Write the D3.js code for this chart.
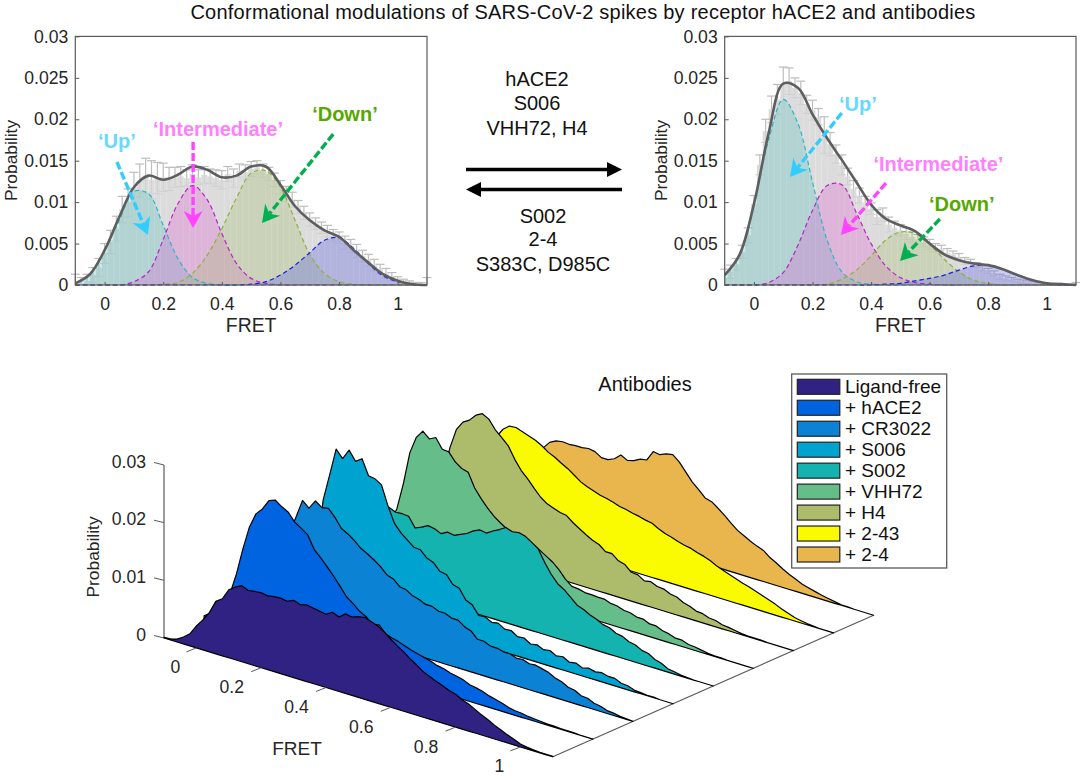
<!DOCTYPE html>
<html>
<head>
<meta charset="utf-8">
<script src="https://cdn.jsdelivr.net/npm/d3@7"></script>
<style>
html,body{margin:0;padding:0;background:#fff}
svg{display:block}
text{font-family:"Liberation Sans",Arial,sans-serif}
</style>
</head>
<body>
<svg id="chart" width="1080" height="779"></svg>
<script>
// ---------- data ----------
const chartTitle = "Conformational modulations of SARS-CoV-2 spikes by receptor hACE2 and antibodies";
const fretBins = d3.range(61).map(k => (k - 5) / 50);
const fitBins = d3.range(25).map(k => (k - 2) / 20);

const ligandFree = [
 .0001,.0002,.0005,.0012,.0021,.0038,.0052,.0068,.0091,.0099,
 .0118,.0126,.0132,.0127,.0129,.0130,.0128,.0130,.0131,.0129,
 .0134,.0130,.0133,.0131,.0129,.0127,.0134,.0129,.0138,.0136,
 .0140,.0142,.0138,.0134,.0127,.0118,.0110,.0103,.0094,.0087,
 .0079,.0074,.0069,.0065,.0060,.0057,.0051,.0047,.0041,.0035,
 .0030,.0024,.0019,.0014,.0010,.0005,.0003,.0002,.0001,.0001,.0001];
const hACE2 = [
 .0008,.0016,.0025,.0040,.0060,.0098,.0145,.0186,.0212,.0224,
 .0242,.0246,.0238,.0232,.0218,.0211,.0203,.0181,.0170,.0158,
 .0145,.0131,.0116,.0108,.0098,.0092,.0082,.0085,.0073,.0069,
 .0066,.0062,.0058,.0055,.0052,.0049,.0045,.0043,.0039,.0037,
 .0034,.0029,.0027,.0024,.0020,.0017,.0014,.0010,.0008,.0007,
 .0005,.0004,.0003,.0002,.0002,.0001,.0001,.0001,0,0,0];
const cr3022 = [
 .0006,.0012,.0025,.0040,.0062,.0088,.0115,.0145,.0176,.0208,
 .0198,.0214,.0206,.0208,.0196,.0180,.0174,.0166,.0156,.0150,
 .0143,.0135,.0124,.0120,.0110,.0108,.0101,.0098,.0093,.0093,
 .0088,.0088,.0083,.0083,.0075,.0071,.0060,.0060,.0055,.0055,
 .0052,.0052,.0048,.0049,.0045,.0046,.0043,.0040,.0034,.0031,
 .0025,.0023,.0017,.0016,.0011,.0009,.0005,.0004,.0002,.0001,0];
const s006 = [
 .0005,.0010,.0020,.0035,.0055,.0080,.0168,.0215,.0263,.0250,
 .0268,.0252,.0260,.0234,.0232,.0225,.0192,.0165,.0152,.0143,
 .0134,.0133,.0122,.0118,.0106,.0104,.0090,.0087,.0070,.0065,
 .0050,.0051,.0045,.0047,.0040,.0041,.0034,.0035,.0028,.0030,
 .0025,.0027,.0021,.0023,.0017,.0019,.0014,.0017,.0014,.0016,
 .0013,.0013,.0008,.0007,.0003,.0002,.0001,.0001,0,0,0];
const s002 = [
 .0003,.0006,.0012,.0025,.0040,.0060,.0078,.0095,.0115,.0132,
 .0138,.0133,.0134,.0133,.0116,.0121,.0127,.0125,.0120,.0126,
 .0124,.0129,.0134,.0142,.0147,.0145,.0152,.0158,.0165,.0161,
 .0163,.0160,.0153,.0145,.0125,.0108,.0095,.0088,.0078,.0068,
 .0064,.0058,.0054,.0048,.0046,.0040,.0038,.0032,.0030,.0024,
 .0022,.0015,.0012,.0006,.0004,.0002,.0001,0,0,0,0];
const vhh72 = [
 .0002,.0006,.0012,.0030,.0062,.0088,.0135,.0192,.0222,.0236,
 .0226,.0232,.0215,.0214,.0200,.0192,.0189,.0165,.0150,.0137,
 .0126,.0118,.0111,.0108,.0105,.0102,.0098,.0092,.0085,.0078,
 .0068,.0055,.0046,.0045,.0042,.0042,.0041,.0041,.0037,.0036,
 .0032,.0031,.0027,.0027,.0022,.0022,.0017,.0015,.0011,.0011,
 .0007,.0006,.0004,.0002,.0001,.0001,0,0,0,0,0];
const h4 = [
 .0002,.0005,.0012,.0025,.0045,.0078,.0120,.0170,.0205,.0221,
 .0228,.0240,.0246,.0240,.0225,.0215,.0204,.0184,.0168,.0157,
 .0144,.0132,.0124,.0120,.0116,.0114,.0105,.0098,.0091,.0085,
 .0081,.0072,.0072,.0063,.0060,.0050,.0049,.0042,.0044,.0039,
 .0038,.0033,.0031,.0025,.0022,.0017,.0016,.0012,.0011,.0007,
 .0006,.0004,.0002,.0001,.0001,.0001,0,0,0,0,0];
const ab243 = [
 .0001,.0003,.0006,.0014,.0028,.0052,.0085,.0125,.0162,.0178,
 .0187,.0188,.0184,.0180,.0176,.0170,.0162,.0157,.0150,.0144,
 .0136,.0128,.0123,.0119,.0115,.0113,.0110,.0106,.0104,.0101,
 .0099,.0096,.0094,.0088,.0083,.0080,.0076,.0073,.0071,.0067,
 .0064,.0060,.0054,.0050,.0046,.0042,.0038,.0035,.0031,.0027,
 .0023,.0019,.0014,.0010,.0006,.0004,.0002,.0001,0,0,0];
const ab24 = [
 .0001,.0002,.0004,.0009,.0018,.0034,.0055,.0078,.0098,.0115,
 .0128,.0134,.0136,.0135,.0136,.0136,.0138,.0136,.0129,.0129,
 .0134,.0144,.0138,.0141,.0147,.0149,.0167,.0165,.0170,.0172,
 .0163,.0149,.0135,.0125,.0114,.0111,.0103,.0094,.0084,.0075,
 .0069,.0063,.0058,.0054,.0045,.0039,.0032,.0026,.0021,.0016,
 .0013,.0010,.0007,.0005,.0003,.0001,.0001,0,0,0,0];

const ribbonNames = ["Ligand-free","+ hACE2","+ CR3022","+ S006","+ S002","+ VHH72","+ H4","+ 2-43","+ 2-4"];
const ribbonSeries = [ligandFree,hACE2,cr3022,s006,s002,vhh72,h4,ab243,ab24];
const ribbonColors = ["#2f2282","#0064e1","#0b82d4","#00a3d0","#14b3b0","#65be8a","#acbc6a","#fafa00","#e8b64c"];

const leftErr = [
 .0012,.0007,.0008,.0009,.0011,.0012,.0014,.0015,.0016,.0017,
 .0018,.0020,.0021,.0023,.0019,.0017,.0014,.0012,.0012,.0010,
 .0011,.0009,.0010,.0009,.0010,.0011,.0009,.0011,.0008,.0009,
 .0009,.0008,.0008,.0008,.0008,.0008,.0009,.0009,.0008,.0008,
 .0008,.0007,.0007,.0007,.0007,.0007,.0008,.0008,.0008,.0007,
 .0007,.0007,.0006,.0006,.0005,.0005,.0004,.0003,.0002,.0002,.0008];
const rightErr = [
 .0011,.0008,.0007,.0008,.0009,.0010,.0012,.0014,.0016,.0018,
 .0021,.0016,.0012,.0014,.0011,.0012,.0010,.0022,.0014,.0011,
 .0012,.0010,.0010,.0009,.0009,.0007,.0009,.0008,.0009,.0008,
 .0007,.0007,.0006,.0006,.0006,.0006,.0005,.0005,.0005,.0004,
 .0004,.0004,.0004,.0003,.0003,.0003,.0003,.0003,.0003,.0002,
 .0002,.0002,.0002,.0002,.0001,.0001,.0001,.0001,.0001,.0001,.0003];

const leftFit = [.0002,.0013,.0042,.0082,.0118,.0132,.0127,.0133,.0143,.0139,.0130,.0132,.0143,.0143,.0121,.0095,.0078,.0066,.0058,.0042,.0027,.0013,.0005,.0001,0];
const leftUp = [.0002,.0013,.0042,.0078,.0113,.0110,.0072,.0032,.0009,.0002,0,0,0,0,0,0,0,0,0,0,0,0,0,0,0];
const leftIntermediate = [0,0,0,0,.0004,.0016,.0055,.0098,.0120,.0103,.0062,.0026,.0008,.0002,0,0,0,0,0,0,0,0,0,0,0];
const leftDown = [0,0,0,0,0,0,.0001,.0003,.0014,.0036,.0068,.0105,.0135,.0138,.0118,.0078,.0037,.0014,.0004,.0001,0,0,0,0,0];
const leftHigh = [0,0,0,0,0,0,0,0,0,0,0,0,.0001,.0004,.0012,.0024,.0039,.0054,.0057,.0044,.0026,.0011,.0004,.0001,0];

const rightFit = [.0012,.0036,.0098,.0183,.0243,.0238,.0206,.0177,.0151,.0124,.0097,.0080,.0072,.0065,.0050,.0037,.0030,.0026,.0024,.0019,.0012,.0006,.0002,.0001,0];
const rightUp = [.0012,.0036,.0098,.0175,.0224,.0195,.0124,.0054,.0016,.0004,.0001,0,0,0,0,0,0,0,0,0,0,0,0,0,0];
const rightIntermediate = [0,0,0,.0003,.0015,.0048,.0090,.0120,.0121,.0087,.0050,.0023,.0009,.0003,.0001,0,0,0,0,0,0,0,0,0,0];
const rightDown = [0,0,0,0,0,0,0,.0001,.0007,.0018,.0035,.0054,.0064,.0062,.0049,.0031,.0016,.0006,.0002,0,0,0,0,0,0];
const rightHigh = [0,0,0,0,0,0,0,0,0,0,0,.0001,.0002,.0005,.0008,.0012,.0018,.0023,.0024,.0019,.0012,.0006,.0002,0,0];

const xTickValues = [0,.2,.4,.6,.8,1];
const yTickValues = [0,.005,.01,.015,.02,.025,.03];
const zTickValues = [0,.01,.02,.03];
const centerTop = ["hACE2","S006","VHH72, H4"];
const centerBottom = ["S002","2-4","S383C, D985C"];

// population labels and arrows, [FRET, probability]
const leftNotes = [
 {label:"‘Up’", at:[.042,.0165], from:[.042,.01484], tip:[.148,.00603], text:"#66d9ff", col:"#33ccff"},
 {label:"‘Intermediate’", at:[.387,.0180], from:[.302,.01725], tip:[.302,.00688], text:"#ff80ff", col:"#ff44ff"},
 {label:"‘Down’", at:[.82,.0198], from:[.78,.01821], tip:[.537,.00748], text:"#55a800", col:"#00b050"}];
const rightNotes = [
 {label:"‘Up’", at:[.355,.0210], from:[.30,.02075], tip:[.123,.01303], text:"#66d9ff", col:"#33ccff"},
 {label:"‘Intermediate’", at:[.63,.0137], from:[.451,.0123], tip:[.297,.00603], text:"#ff80ff", col:"#ff44ff"},
 {label:"‘Down’", at:[.71,.0089], from:[.635,.00796], tip:[.499,.0029], text:"#55a800", col:"#00b050"}];

// ---------- drawing ----------
const svg = d3.select("#chart");
const axisGray = "#5a5a5a", labelInk = "#262626";

svg.append("text").attr("x",583).attr("y",18.5).attr("text-anchor","middle")
  .attr("font-size",20).attr("letter-spacing",.24).attr("fill","#111").text(chartTitle);

const comps = [
 {key:0, fill:"rgb(87,193,193)", line:"#2bb6c6"},
 {key:1, fill:"rgb(223,93,210)", line:"#bb22c8"},
 {key:2, fill:"rgb(167,190,110)", line:"#8cb33a"},
 {key:3, fill:"rgb(84,90,227)", line:"#1c1ce6"}];

function panel(idx, left, right, hist, err, fit, parts, notes){
  const top = 36.4, bottom = 285;
  const x = d3.scaleLinear().domain([-.1,1.1]).range([left,right]);
  const y = d3.scaleLinear().domain([0,.03]).range([bottom,top]);
  const g = svg.append("g");
  const clipId = "clip"+idx;
  g.append("clipPath").attr("id",clipId).append("rect")
    .attr("x",left).attr("y",top).attr("width",right-left).attr("height",bottom-top);

  const bw = x(.02)-x(0);
  g.append("g").attr("clip-path",`url(#${clipId})`).selectAll("rect").data(hist).join("rect")
    .attr("x",(d,i)=>x(fretBins[i])-bw/2).attr("width",bw)
    .attr("y",d=>y(d)).attr("height",d=>bottom-y(d)).attr("fill","#dcdcdc");

  // upper half of each error bar is plain grey, the lower half sits faintly in the bar
  const lower = g.append("g").attr("stroke","#d0d0d0").attr("stroke-width",1);
  const upper = g.append("g").attr("stroke","#bdbdbd").attr("stroke-width",1.2);
  hist.forEach((d,i)=>{
    const cx = x(fretBins[i]);
    lower.append("line").attr("x1",cx).attr("x2",cx).attr("y1",y(Math.max(0,d-err[i]))).attr("y2",y(d));
    if(d-err[i]>0) lower.append("line").attr("x1",cx-4.5).attr("x2",cx+4.5).attr("y1",y(d-err[i])).attr("y2",y(d-err[i]));
    upper.append("line").attr("x1",cx).attr("x2",cx).attr("y1",y(d)).attr("y2",y(d+err[i]));
    upper.append("line").attr("x1",cx-4.5).attr("x2",cx+4.5).attr("y1",y(d+err[i])).attr("y2",y(d+err[i]));
  });

  const areaGen = d3.area().x((d,i)=>x(fitBins[i])).y0(bottom).y1(d=>y(d)).curve(d3.curveCatmullRom);
  const lineGen = d3.line().x((d,i)=>x(fitBins[i])).y(d=>y(d)).curve(d3.curveCatmullRom);
  parts.forEach((p,k)=>{
    g.append("path").attr("d",areaGen(p)).attr("fill",comps[k].fill).attr("fill-opacity",.3);
  });
  parts.forEach((p,k)=>{
    g.append("path").attr("d",lineGen(p)).attr("fill","none").attr("stroke",comps[k].line)
      .attr("stroke-width",1.2).attr("stroke-dasharray","4.5,3");
  });
  g.append("path").attr("d",lineGen(fit)).attr("fill","none").attr("stroke","#5e5e5e").attr("stroke-width",2.6);

  g.append("rect").attr("x",left).attr("y",top).attr("width",right-left).attr("height",bottom-top)
    .attr("fill","none").attr("stroke",axisGray).attr("stroke-width",1.2);

  const ax = d3.axisBottom(x).tickValues(xTickValues).tickSize(-3).tickPadding(13).tickFormat(d=>String(d));
  const ay = d3.axisLeft(y).tickValues(yTickValues).tickSize(-4).tickPadding(7).tickFormat(d=>String(d));
  const axG = g.append("g").attr("transform",`translate(0,${bottom})`).call(ax);
  const ayG = g.append("g").attr("transform",`translate(${left},0)`).call(ay);
  [axG,ayG].forEach(a=>{
    a.select(".domain").remove();
    a.selectAll("line").attr("stroke",axisGray).attr("stroke-width",1);
    a.selectAll("text").attr("font-size",17.6).attr("fill",labelInk)
      .style("font-family",'"Liberation Sans",Arial,sans-serif');
  });
  g.append("text").attr("x",(left+right)/2).attr("y",332).attr("text-anchor","middle")
    .attr("font-size",19.4).attr("fill",labelInk).text("FRET");
  g.append("text").attr("transform",`translate(${left-58},160.5) rotate(-90)`).attr("text-anchor","middle")
    .attr("font-size",17.4).attr("fill",labelInk).text("Probability");

  notes.forEach(n=>{
    arrow(g,[x(n.from[0]),y(n.from[1])],[x(n.tip[0]),y(n.tip[1])],n.col,3.4,"8,3",17,9.5,5);
    g.append("text").attr("x",x(n.at[0])).attr("y",y(n.at[1])).attr("text-anchor","middle")
      .attr("font-size",20).attr("font-weight","bold").attr("fill",n.text).text(n.label);
  });
}

function arrow(g,from,tip,col,w,dash,hl,hw,notch){
  const a = Math.atan2(tip[1]-from[1],tip[0]-from[0]);
  const ux=Math.cos(a), uy=Math.sin(a), px=-uy, py=ux;
  g.append("line").attr("x1",from[0]).attr("y1",from[1])
    .attr("x2",tip[0]-ux*(hl-notch)).attr("y2",tip[1]-uy*(hl-notch))
    .attr("stroke",col).attr("stroke-width",w).attr("stroke-dasharray",dash);
  const pts=[tip,
    [tip[0]-ux*hl+px*hw,tip[1]-uy*hl+py*hw],
    [tip[0]-ux*(hl-notch),tip[1]-uy*(hl-notch)],
    [tip[0]-ux*hl-px*hw,tip[1]-uy*hl-py*hw]];
  g.append("polygon").attr("points",pts.map(p=>p.join(",")).join(" ")).attr("fill",col);
}

panel(0,75.3,427,ligandFree,leftErr,leftFit,[leftUp,leftIntermediate,leftDown,leftHigh],leftNotes);
panel(1,724.7,1076,hACE2,rightErr,rightFit,[rightUp,rightIntermediate,rightDown,rightHigh],rightNotes);

// centre text and exchange arrows
const cg = svg.append("g");
[86,110,135].forEach((yy,i)=>cg.append("text").attr("x",537).attr("y",yy).attr("text-anchor","middle")
  .attr("font-size",20).attr("fill","#111").text(centerTop[i]));
[223,246,271].forEach((yy,i)=>cg.append("text").attr("x",543).attr("y",yy).attr("text-anchor","middle")
  .attr("font-size",20).attr("fill","#111").text(centerBottom[i]));
arrow(cg,[466,169.5],[622,169.5],"#000",3.6,null,15,7.5,0);
arrow(cg,[622,189.5],[466,189.5],"#000",3.6,null,15,7.5,0);

// 3-D ribbons
const ribbonX = d3.scaleLinear().domain([0,8]).range([164,484.8]);
const ribbonY = d3.scaleLinear().domain([0,8]).range([638,496.4]);
const fretDX = d3.scaleLinear().domain([-.1,1.1]).range([0,388.8]);
const fretDY = d3.scaleLinear().domain([-.1,1.1]).range([0,118.8]);
const probH = d3.scaleLinear().domain([0,.03]).range([0,173]);

const rg = svg.append("g");
rg.append("line").attr("x1",ribbonX(0)).attr("x2",ribbonX(0))
  .attr("y1",ribbonY(0)).attr("y2",ribbonY(0)-probH(.03)).attr("stroke",axisGray).attr("stroke-width",1.2);
zTickValues.forEach(v=>{
  const yy = ribbonY(0)-probH(v);
  rg.append("line").attr("x1",ribbonX(0)).attr("y1",yy).attr("x2",ribbonX(0)-10).attr("y2",yy-2.5)
    .attr("stroke",axisGray).attr("stroke-width",1);
  rg.append("text").attr("x",146).attr("y",yy+2.5).attr("text-anchor","end")
    .attr("font-size",17.6).attr("fill",labelInk).text(String(v));
});
rg.append("text").attr("transform","translate(99,557) rotate(-90)").attr("text-anchor","middle")
  .attr("font-size",17.4).attr("fill",labelInk).text("Probability");
rg.append("line")
  .attr("x1",ribbonX(0)+fretDX(1.1)).attr("y1",ribbonY(0)+fretDY(1.1))
  .attr("x2",ribbonX(8)+fretDX(1.1)).attr("y2",ribbonY(8)+fretDY(1.1))
  .attr("stroke",axisGray).attr("stroke-width",1.2);

d3.range(8,-1,-1).forEach(i=>{
  const area = d3.area()
    .x((d,k)=>ribbonX(i)+fretDX(fretBins[k]))
    .y0((d,k)=>ribbonY(i)+fretDY(fretBins[k]))
    .y1((d,k)=>ribbonY(i)+fretDY(fretBins[k])-probH(d));
  rg.append("path").attr("d",area(ribbonSeries[i])).attr("fill",ribbonColors[i])
    .attr("stroke","#000").attr("stroke-width",1.2).attr("stroke-linejoin","round");
});
xTickValues.forEach(v=>{
  const tx=ribbonX(0)+fretDX(v), ty=ribbonY(0)+fretDY(v);
  rg.append("line").attr("x1",tx).attr("y1",ty).attr("x2",tx-10).attr("y2",ty+4)
    .attr("stroke",axisGray).attr("stroke-width",1);
  rg.append("text").attr("x",tx-(v===0||v===1?21:29.5)).attr("y",ty+25.5).attr("text-anchor","middle")
    .attr("font-size",17.6).attr("fill",labelInk).text(String(v));
});
rg.append("text").attr("x",297).attr("y",755).attr("text-anchor","middle")
  .attr("font-size",19).attr("fill",labelInk).text("FRET");
rg.append("text").attr("x",645).attr("y",391).attr("text-anchor","middle")
  .attr("font-size",20).attr("fill","#111").text("Antibodies");

// legend
const lg = svg.append("g");
lg.append("rect").attr("x",791.7).attr("y",374).attr("width",155).attr("height",194)
  .attr("fill","#fff").attr("stroke",axisGray).attr("stroke-width",1.3);
const legY = d3.scaleLinear().domain([0,8]).range([379.3,547]);
ribbonNames.forEach((n,i)=>{
  lg.append("rect").attr("x",797.3).attr("y",legY(i)).attr("width",42.5).attr("height",15)
    .attr("fill",ribbonColors[i]).attr("stroke","#222").attr("stroke-width",1.2);
  lg.append("text").attr("x",845).attr("y",legY(i)+13.5).attr("font-size",19).attr("fill","#111").text(n);
});
</script>
</body>
</html>
